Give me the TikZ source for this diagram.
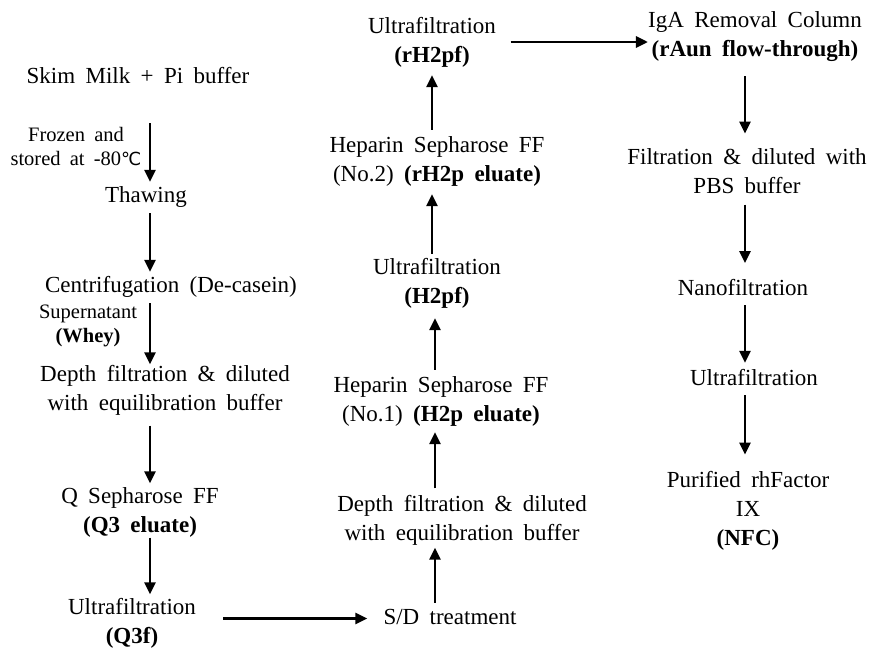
\documentclass[tikz,border=0pt]{standalone}
\usepackage{fontspec}
\setmainfont{Liberation Serif}[WordSpace=1.8]
\newfontfamily\dvs{DejaVu Sans}
\usetikzlibrary{arrows.meta}
\begin{document}
\begin{tikzpicture}[x=1pt,y=-1pt,
  lbl/.style={inner sep=0pt, align=center, font=\fontsize{23}{29}\selectfont},
  small/.style={inner sep=0pt, align=center, font=\fontsize{20.5}{24}\selectfont},
  arr/.style={line width=2.8pt, -{Triangle[length=12pt,width=11pt]}}]
\fill[white] (0,0) rectangle (871,648);
\useasboundingbox (0,0) rectangle (871,648);
% column 1
\node[lbl] (skim) at (138,77.5) {\strut Skim Milk + Pi buffer};
\node[small] (frozen) at (76,149) {\strut Frozen and\\\strut stored at -80{\dvs\fontsize{18}{24}\selectfont ℃}};
\node[lbl] (thaw) at (146,196.5) {\strut Thawing};
\node[lbl] (cent) at (171,286.5) {\strut Centrifugation (De-casein)};
\node[small] (sup) at (88,326) {\strut Supernatant\\\strut\textbf{(Whey)}};
\node[lbl] (dep1) at (165,390.5) {\strut Depth filtration \& diluted\\\strut with equilibration buffer};
\node[lbl] (q) at (140,512.5) {\strut Q Sepharose FF\\\strut\textbf{(Q3 eluate)}};
\node[lbl] (uf1) at (132,623) {\strut Ultrafiltration\\\strut\textbf{(Q3f)}};
% column 2
\node[lbl] (sd) at (450,618.5) {\strut S/D treatment};
\node[lbl] (dep2) at (462,520.5) {\strut Depth filtration \& diluted\\\strut with equilibration buffer};
\node[lbl] (hep1) at (441,401) {\strut Heparin Sepharose FF\\\strut (No.1) \textbf{(H2p eluate)}};
\node[lbl] (uf2) at (437,283) {\strut Ultrafiltration\\\strut\textbf{(H2pf)}};
\node[lbl] (hep2) at (437,161) {\strut Heparin Sepharose FF\\\strut (No.2) \textbf{(rH2p eluate)}};
\node[lbl] (uf3) at (432,42) {\strut Ultrafiltration\\\strut\textbf{(rH2pf)}};
% column 3
\node[lbl] (iga) at (755,36) {\strut IgA Removal Column\\\strut\textbf{(rAun flow-through)}};
\node[lbl] (filt) at (747,173.5) {\strut Filtration \& diluted with\\\strut PBS buffer};
\node[lbl] (nano) at (743,289.5) {\strut Nanofiltration};
\node[lbl] (uf4) at (754,379.5) {\strut Ultrafiltration};
\node[lbl] (pur) at (748,511) {\strut Purified rhFactor\\\strut IX\\\strut\textbf{(NFC)}};
% arrow columns
\coordinate (c1) at (150,0);
\coordinate (c2) at (435,0);
\coordinate (c2u) at (432,0);
\coordinate (c3) at (745,0);
% arrows column 1
\draw[arr, shorten <=31pt] (skim.south -| c1) -- (thaw.north -| c1);
\draw[arr, shorten <=2pt] (thaw.south -| c1) -- (cent.north -| c1);
\draw[arr, shorten <=2pt, shorten >=-3pt] (cent.south -| c1) -- (dep1.north -| c1);
\draw[arr, shorten <=6pt] (dep1.south -| c1) -- (q.north -| c1);
\draw[arr, shorten <=-4pt, shorten >=-0.5pt] (q.south -| c1) -- (uf1.north -| c1);
\draw[arr, shorten <=27pt, shorten >=16pt] (sd.west -| uf1.east) -- (sd.west);
% arrows column 2
\draw[arr, shorten <=1pt, shorten >=-2pt] (sd.north -| c2) -- (dep2.south -| c2);
\draw[arr, shorten <=3pt, shorten >=2pt] (dep2.north -| c2) -- (hep1.south -| c2);
\draw[arr, shorten <=2pt, shorten >=6pt] (hep1.north -| c2) -- (uf2.south -| c2);
\draw[arr, shorten >=4pt] (uf2.north -| c2u) -- (hep2.south -| c2u);
\draw[arr, shorten <=2pt, shorten >=4pt] (hep2.north -| c2u) -- (uf3.south -| c2u);
\draw[arr, shorten <=14.5pt] (uf3.east) -- (uf3.east -| iga.west);
% arrows column 3
\draw[arr, shorten <=11pt, shorten >=10.7pt] (iga.south -| c3) -- (filt.north -| c3);
\draw[arr, shorten <=2pt, shorten >=11.7pt] (filt.south -| c3) -- (nano.north -| c3);
\draw[arr, shorten <=1pt, shorten >=2pt] (nano.south -| c3) -- (uf4.north -| c3);
\draw[arr, shorten <=1pt, shorten >=12.7pt] (uf4.south -| c3) -- (pur.north -| c3);
\end{tikzpicture}
\end{document}
